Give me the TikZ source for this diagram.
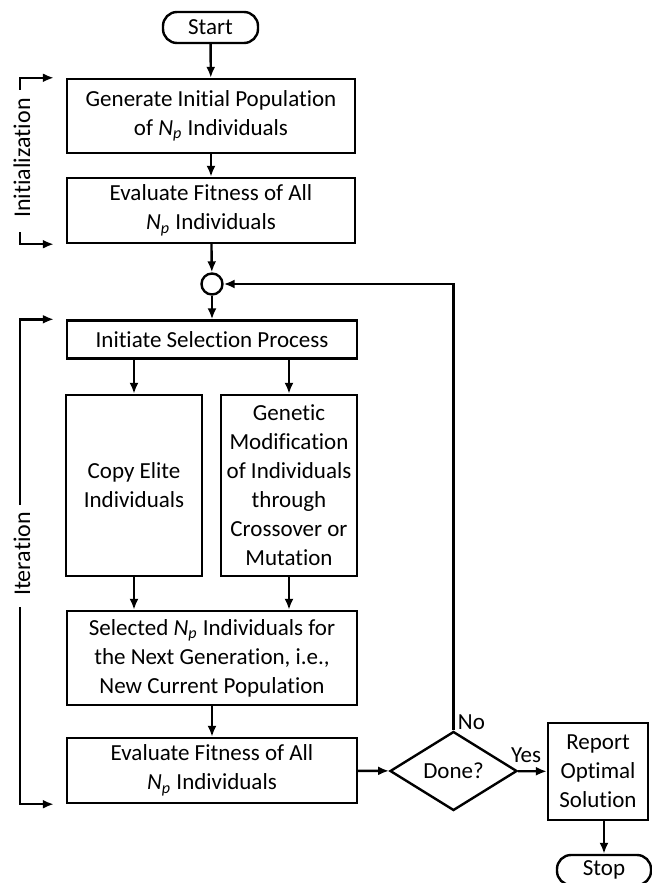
\documentclass[tikz,border=0pt]{standalone}
\usepackage{fontspec}
\setmainfont[Ligatures=CommonOff]{Carlito}
\usetikzlibrary{shapes.geometric,arrows.meta}

\newcommand{\Np}{\textit{N}\textsubscript{\textit{p}}}

\tikzset{
    >={Latex[length=5.5pt,width=4.5pt]},
    flow/.style={very thick},
    box/.style={draw, very thick, align=center, inner sep=0pt, font=\fontsize{11.5}{14.5}\selectfont},
    term/.style={box, rounded corners=7pt},
    junction/.style={draw, very thick, circle, inner sep=0pt, minimum size=10.5pt},
    decision/.style={box, diamond, minimum width=63.5pt, minimum height=39.5pt},
    phase/.style={rotate=90, font=\fontsize{12}{14}\selectfont},
    tag/.style={font=\fontsize{11.5}{14}\selectfont, inner sep=0pt}
}

\begin{document}
\begin{tikzpicture}[x=0.5pt, y=-0.5pt]
    \useasboundingbox (0,0) rectangle (652,883);

    % main column
    \node[term, minimum width=47.5pt, minimum height=15.5pt] (start) at (210.5,27.5) {Start};
    \node[box, minimum width=144pt, minimum height=37pt] (gen) at (211,116) {Generate Initial Population\\of \Np{} Individuals};
    \node[box, minimum width=144pt, minimum height=32.5pt] (eval1) at (211,210.5) {Evaluate Fitness of All\\\Np{} Individuals};
    \node[junction] (join) at (212,284) {};
    \node[box, minimum width=145pt, minimum height=19pt] (select) at (212,339.5) {Initiate Selection Process};
    \node[box, minimum width=68pt, minimum height=90.5pt] (elite) at (134,485.5) {Copy Elite\\Individuals};
    \node[box, minimum width=68pt, minimum height=90.5pt] (genetic) at (289,485.5) {Genetic\\Modification\\of Individuals\\through\\Crossover or\\Mutation};
    \node[box, minimum width=145pt, minimum height=47pt] (newpop) at (212,658) {Selected \Np{} Individuals for\\the Next Generation, i.e.,\\New Current Population};
    \node[box, minimum width=145pt, minimum height=32.5pt] (eval2) at (212,770.5) {Evaluate Fitness of All\\\Np{} Individuals};

    % decision and exit
    \node[decision] (done) at (453.5,771) {Done?};
    \node[box, minimum width=50pt, minimum height=48.5pt] (report) at (598,771.5) {Report\\Optimal\\Solution};
    \node[term, minimum width=47pt, minimum height=15pt] (stop) at (604,870) {Stop};

    \draw[flow, ->] (start) -- (gen);
    \draw[flow, ->] (gen) -- (eval1);
    \draw[flow, ->] (eval1) -- (join);
    \draw[flow, ->] (join) -- (select);
    \draw[flow, ->] (select.south -| elite) -- (elite);
    \draw[flow, ->] (select.south -| genetic) -- (genetic);
    \draw[flow, ->] (elite) -- (newpop.north -| elite);
    \draw[flow, ->] (genetic) -- (newpop.north -| genetic);
    \draw[flow, ->] (newpop) -- (eval2);
    \draw[flow, ->] (eval2) -- (done);
    \draw[flow, ->] (done) -- (report);
    \node[tag] (yeslabel) at (526,755) {Yes};
    \draw[flow, ->] (report.south -| stop) -- (stop);
    \draw[flow, ->] (done.north) -- (done.north |- join) -- (join);
    \node[tag, anchor=south west] (nolabel) at ([xshift=2pt]done.north) {No};

    % phase brackets
    \node[phase] (initlabel) at (22,158) {Initialization};
    \coordinate (initA) at (20,90);
    \coordinate (initB) at (20,232);
    \draw[flow, ->] (initA) |- ([xshift=-6pt]gen.north west);
    \draw[flow, ->] (initB) |- ([xshift=-6pt]eval1.south west);

    \node[phase] (iterlabel) at (22,554) {Iteration};
    \coordinate (iterA) at (20,505);
    \coordinate (iterB) at (20,607);
    \draw[flow, ->] (iterA) |- ([xshift=-6pt]select.north west);
    \draw[flow, ->] (iterB) |- ([xshift=-6pt]eval2.south west);
\end{tikzpicture}
\end{document}
